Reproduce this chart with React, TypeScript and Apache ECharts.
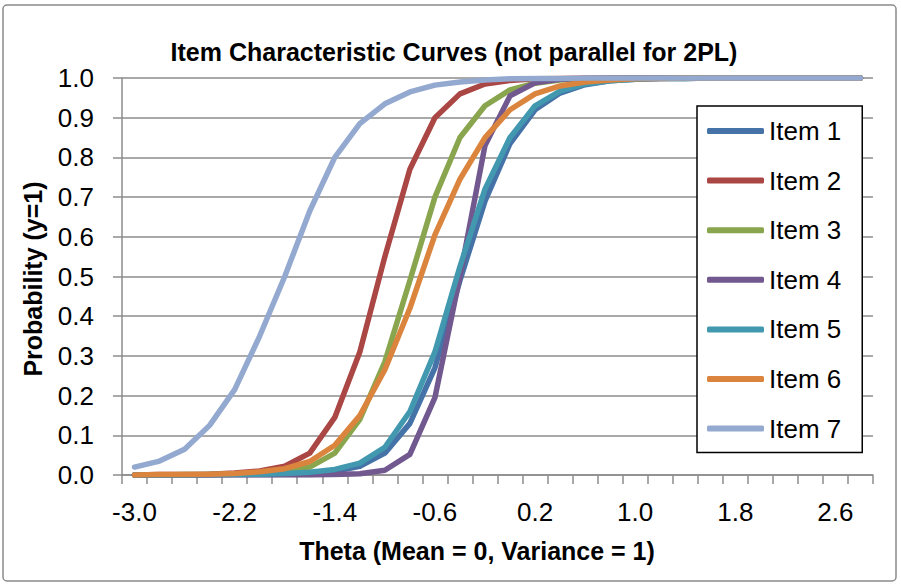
import React, { useEffect, useRef } from "react";
import * as echarts from "echarts";

const thetaLabels = [
  "-3.0", "-2.8", "-2.6", "-2.4", "-2.2", "-2.0", "-1.8", "-1.6", "-1.4", "-1.2",
  "-1.0", "-0.8", "-0.6", "-0.4", "-0.2", "0.0", "0.2", "0.4", "0.6", "0.8",
  "1.0", "1.2", "1.4", "1.6", "1.8", "2.0", "2.2", "2.4", "2.6", "2.8",
];

const item1 = [0, 0, 0, 0, 0.001, 0.001, 0.002, 0.004, 0.009, 0.022, 0.055, 0.13, 0.27, 0.49, 0.69, 0.835, 0.92, 0.962, 0.983, 0.993, 0.997, 0.999, 0.999, 1, 1, 1, 1, 1, 1, 1];
const item2 = [0, 0.001, 0.001, 0.002, 0.005, 0.01, 0.022, 0.055, 0.145, 0.31, 0.55, 0.77, 0.9, 0.96, 0.985, 0.994, 0.998, 0.999, 1, 1, 1, 1, 1, 1, 1, 1, 1, 1, 1, 1];
const item3 = [0, 0, 0.001, 0.001, 0.002, 0.004, 0.009, 0.02, 0.055, 0.14, 0.285, 0.49, 0.7, 0.85, 0.93, 0.97, 0.987, 0.995, 0.998, 0.999, 1, 1, 1, 1, 1, 1, 1, 1, 1, 1];
const item4 = [0, 0, 0, 0, 0, 0, 0, 0, 0.001, 0.003, 0.012, 0.052, 0.195, 0.5, 0.83, 0.955, 0.988, 0.997, 0.999, 1, 1, 1, 1, 1, 1, 1, 1, 1, 1, 1];
const item5 = [0, 0, 0, 0.001, 0.001, 0.002, 0.004, 0.007, 0.014, 0.03, 0.07, 0.16, 0.31, 0.525, 0.72, 0.85, 0.93, 0.967, 0.985, 0.993, 0.997, 0.999, 0.999, 1, 1, 1, 1, 1, 1, 1];
const item6 = [0, 0.001, 0.001, 0.002, 0.004, 0.008, 0.016, 0.034, 0.075, 0.15, 0.265, 0.42, 0.605, 0.745, 0.85, 0.92, 0.96, 0.98, 0.99, 0.995, 0.998, 0.999, 1, 1, 1, 1, 1, 1, 1, 1];
const item7 = [0.02, 0.035, 0.065, 0.125, 0.215, 0.35, 0.5, 0.665, 0.8, 0.885, 0.935, 0.965, 0.982, 0.99, 0.995, 0.998, 0.999, 0.999, 1, 1, 1, 1, 1, 1, 1, 1, 1, 1, 1, 1];

const seriesNames = ["Item 1", "Item 2", "Item 3", "Item 4", "Item 5", "Item 6", "Item 7"];
const seriesData = [item1, item2, item3, item4, item5, item6, item7];
const seriesColors = ["#4572A7", "#AA4643", "#89A54E", "#71588F", "#4198AF", "#DB843D", "#93A9CF"];

const titleText = "Item Characteristic Curves (not parallel for 2PL)";
const xName = "Theta (Mean = 0, Variance = 1)";
const yName = "Probability (y=1)";

const FONT = "'Liberation Sans', Arial, sans-serif";

export default function App() {
  const ref = useRef<HTMLDivElement>(null);

  useEffect(() => {
    if (!ref.current) return;
    const chart = echarts.init(ref.current, undefined, { renderer: "svg" });
    const gridColor = "#8c8c8c";
    chart.setOption({
      animation: false,
      backgroundColor: "#ffffff",
      textStyle: { fontFamily: FONT },
      grid: { left: 122, right: 28, top: 78, bottom: 110, containLabel: false },
      graphic: [
        {
          type: "rect",
          z: -10,
          shape: { x: 3, y: 5, width: 893, height: 576, r: 4 },
          style: { fill: "none", stroke: "#8a8a8a", lineWidth: 1.5 },
        },
        {
          type: "text",
          x: 454,
          y: 52,
          style: {
            text: titleText,
            align: "center",
            verticalAlign: "middle",
            textAlign: "center",
            textVerticalAlign: "middle",
            font: `bold 25px ${FONT}`,
            fill: "#000",
          },
        },
        {
          type: "text",
          x: 477,
          y: 551,
          style: {
            text: xName,
            align: "center",
            verticalAlign: "middle",
            textAlign: "center",
            textVerticalAlign: "middle",
            font: `bold 25px ${FONT}`,
            fill: "#000",
          },
        },
        {
          type: "text",
          x: 33,
          y: 279,
          rotation: Math.PI / 2,
          style: {
            text: yName,
            align: "center",
            verticalAlign: "middle",
            textAlign: "center",
            textVerticalAlign: "middle",
            font: `bold 25px ${FONT}`,
            fill: "#000",
          },
        },
      ],
      legend: {
        orient: "vertical",
        left: 697,
        top: 106,
        itemWidth: 57,
        itemHeight: 6,
        itemGap: 19.6,
        icon: "roundRect",
        padding: [10, 21, 9, 10],
        borderColor: "#000",
        borderWidth: 1.5,
        backgroundColor: "#ffffff",
        data: seriesNames,
        textStyle: { fontSize: 26, lineHeight: 30, color: "#000", fontFamily: FONT },
      },
      xAxis: {
        type: "category",
        data: thetaLabels,
        boundaryGap: true,
        axisLine: { show: true, lineStyle: { color: gridColor, width: 1.5 } },
        axisTick: { show: true, interval: 0, length: 9, inside: false, lineStyle: { color: gridColor, width: 1.5 } },
        axisLabel: { interval: 3, fontSize: 26, color: "#000", margin: 24, fontFamily: FONT },
        splitLine: { show: false },
      },
      yAxis: {
        type: "value",
        min: 0,
        max: 1,
        interval: 0.1,
        axisLine: { show: true, lineStyle: { color: gridColor, width: 1.5 } },
        axisTick: { show: true, length: 9, inside: false, lineStyle: { color: gridColor, width: 1.5 } },
        axisLabel: {
          fontSize: 26,
          color: "#000",
          margin: 28,
          fontFamily: FONT,
          formatter: (v: number) => v.toFixed(1),
        },
        splitLine: { show: true, lineStyle: { color: gridColor, width: 1.5 } },
      },
      series: seriesNames.map((name, i) => ({
        name,
        type: "line",
        data: seriesData[i],
        symbol: "none",
        showSymbol: false,
        smooth: false,
        color: seriesColors[i],
        lineStyle: { width: 5.5, color: seriesColors[i], join: "round", cap: "round" },
        emphasis: { disabled: true },
      })),
    });
    return () => chart.dispose();
  }, []);

  return (
    <div
      ref={ref}
      style={{ position: "absolute", left: 0, top: 0, width: 901, height: 585 }}
    />
  );
}
